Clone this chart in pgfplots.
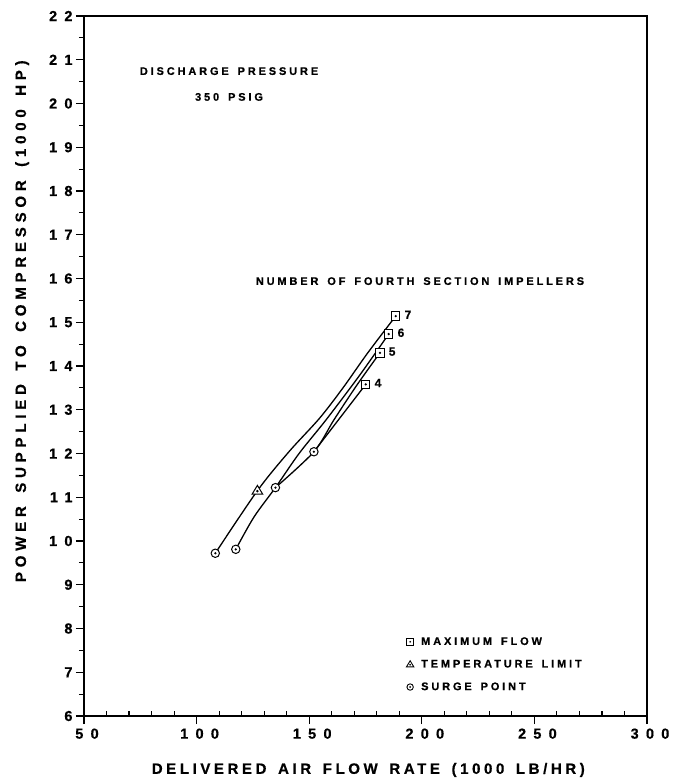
\documentclass[border=0pt]{standalone}
\usepackage{fontspec}
\usepackage{pgfplots}
\pgfplotsset{compat=1.18}
\usetikzlibrary{calc}
\setmainfont{Liberation Sans}
\newfontfamily\tickf{Liberation Sans Bold}[LetterSpace=50, FakeBold=0.6]
\newfontfamily\labf{Liberation Sans Bold}[LetterSpace=24, WordSpace=1.5, FakeBold=0.6]
\newfontfamily\ylabf{Liberation Sans Bold}[LetterSpace=32, WordSpace=1.5, FakeBold=0.6]
\newfontfamily\smf{Liberation Sans Bold}[LetterSpace=26, WordSpace=1.5, FakeBold=0.6]

\pgfdeclareplotmark{sqdot}{%
  \pgfscope
  \pgfsetfillcolor{white}%
  \pgfpathrectangle{\pgfpoint{-\pgfplotmarksize}{-\pgfplotmarksize}}{\pgfpoint{2\pgfplotmarksize}{2\pgfplotmarksize}}%
  \pgfusepathqfillstroke
  \pgfsetfillcolor{black}%
  \pgfpathcircle{\pgfpointorigin}{0.3\pgfplotmarksize}%
  \pgfusepathqfill
  \endpgfscope}
\pgfdeclareplotmark{cdot}{%
  \pgfscope
  \pgfsetfillcolor{white}%
  \pgfpathcircle{\pgfpointorigin}{\pgfplotmarksize}%
  \pgfusepathqfillstroke
  \pgfsetfillcolor{black}%
  \pgfpathcircle{\pgfpointorigin}{0.3\pgfplotmarksize}%
  \pgfusepathqfill
  \endpgfscope}
\pgfdeclareplotmark{tdot}{%
  \pgfscope
  \pgfsetfillcolor{white}%
  \pgfpathmoveto{\pgfpoint{0pt}{1.15\pgfplotmarksize}}%
  \pgfpathlineto{\pgfpoint{-1.15\pgfplotmarksize}{-0.75\pgfplotmarksize}}%
  \pgfpathlineto{\pgfpoint{1.15\pgfplotmarksize}{-0.75\pgfplotmarksize}}%
  \pgfpathclose
  \pgfusepathqfillstroke
  \pgfsetfillcolor{black}%
  \pgfpathcircle{\pgfpoint{0pt}{-0.1\pgfplotmarksize}}{0.3\pgfplotmarksize}%
  \pgfusepathqfill
  \endpgfscope}

\begin{document}
\begin{tikzpicture}
\begin{axis}[
  scale only axis, width=563bp, height=700bp,
  xmin=50, xmax=300, ymin=6, ymax=22,
  xtick={50,100,...,300}, ytick={6,7,...,22},
  minor x tick num=4, minor y tick num=1,
  tick align=outside, xtick pos=bottom, ytick pos=left,
  major tick length=8bp, minor tick length=5bp,
  minor x tick style={yshift=4.5bp},
  axis line style={line width=1.2bp},
  every tick/.style={black, line width=1.1bp},
  tick label style={font=\tickf\fontsize{14.5bp}{16bp}\selectfont},
  xticklabel style={yshift=-1bp, xshift=3bp},
  /pgf/number format/assume math mode=true,
  xlabel={DELIVERED AIR FLOW RATE (1000 LB/HR)},
  ylabel={POWER SUPPLIED TO COMPRESSOR (1000 HP)},
  xlabel style={at={(axis description cs:0.505,-0.0771)}, anchor=center, font=\labf\fontsize{15bp}{17bp}\selectfont},
  ylabel style={at={(axis description cs:-0.110,0.564)}, anchor=center, rotate=0, font=\ylabf\fontsize{15bp}{17bp}\selectfont},
  clip=false,
  legend style={at={(axis cs:193.1,7.85)}, anchor=north west, draw=none, fill=none,
    font=\smf\fontsize{11bp}{13bp}\selectfont, row sep=9.5bp, inner sep=0pt},
  legend cell align=left,
  legend image code/.code={\draw[mark size=3.2bp, line width=0.9bp] plot coordinates {(0.1cm,0cm)}; \path[draw=none, fill=none] (0,0) rectangle (0.42cm,0.01cm);},
]
% curves
\addplot[line width=1.3bp, smooth, tension=0.5, forget plot] coordinates {
 (108.3,9.72) (127,11.15) (141,12.04) (154.5,12.8) (165,13.5) (176,14.3) (188.4,15.14)};
\addplot[line width=1.3bp, smooth, tension=0.5, forget plot] coordinates {
 (117.4,9.81) (125.5,10.55) (135,11.22) (145.5,12.0) (157.5,12.77) (172,13.76) (185.3,14.73)};
\addplot[line width=1.3bp, smooth, tension=0.5, forget plot] coordinates {
 (135,11.22) (152.1,12.04) (161,12.77) (171,13.55) (181.4,14.30)};
\addplot[line width=1.3bp, smooth, tension=0.5, forget plot] coordinates {
 (152.1,12.04) (163,12.77) (175.1,13.58)};
% markers
\addplot[only marks, mark=sqdot, mark size=4.2bp, line width=1bp] coordinates {
 (188.4,15.14) (185.3,14.73) (181.4,14.30) (175.1,13.58)};
\addlegendentry{MAXIMUM FLOW}
\addplot[only marks, mark=tdot, mark size=4.6bp, line width=1bp] coordinates {(127,11.15)};
\addlegendentry{TEMPERATURE LIMIT}
\addplot[only marks, mark=cdot, mark size=4.2bp, line width=1bp] coordinates {
 (108.3,9.72) (117.4,9.81) (135,11.22) (152.1,12.04)};
\addlegendentry{SURGE POINT}
% labels
\node[anchor=west, font=\smf\fontsize{12bp}{13bp}\selectfont] at (axis cs:190.8,15.17) {7};
\node[anchor=west, font=\smf\fontsize{12bp}{13bp}\selectfont] at (axis cs:187.7,14.76) {6};
\node[anchor=west, font=\smf\fontsize{12bp}{13bp}\selectfont] at (axis cs:183.8,14.33) {5};
\node[anchor=west, font=\smf\fontsize{12bp}{13bp}\selectfont] at (axis cs:177.5,13.61) {4};
\node[font=\smf\fontsize{11bp}{13bp}\selectfont] at (axis cs:114.4,20.74) {DISCHARGE PRESSURE};
\node[font=\smf\fontsize{11bp}{13bp}\selectfont] at (axis cs:114.4,20.15) {350 PSIG};
\node[font=\smf\fontsize{11bp}{13bp}\selectfont] at (axis cs:199.2,15.94) {NUMBER OF FOURTH SECTION IMPELLERS};
\end{axis}
\pgfresetboundingbox
\path ($(current axis.south west)+(-84bp,-63bp)$) rectangle ($(current axis.north east)+(35bp,16bp)$);
\end{tikzpicture}
\end{document}
